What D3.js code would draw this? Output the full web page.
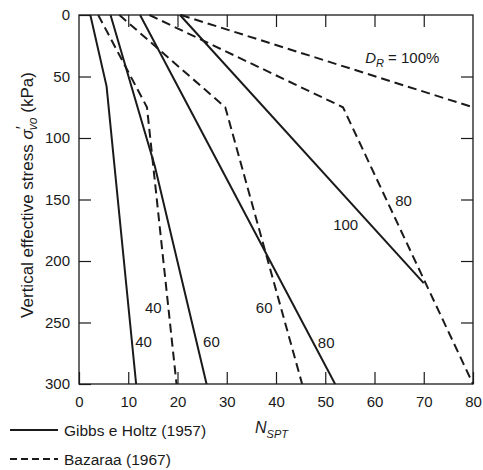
<!DOCTYPE html>
<html>
<head>
<meta charset="utf-8">
<script src="https://cdn.jsdelivr.net/npm/d3@7/dist/d3.min.js"></script>
<style>
  body { margin: 0; background: #fff; }
  svg text { font-family: "Liberation Sans", Arial, Helvetica, sans-serif; fill: #1a1a1a; }
</style>
</head>
<body>
<svg id="chart" width="483" height="470"></svg>
<script>
// N_SPT vs vertical effective stress [N, kPa]
const gibbs40 = [[2.3, 0], [5.6, 58], [11.6, 300]];
const gibbs60 = [[6.4, 0], [15.4, 123], [25.9, 300]];
const gibbs80 = [[12.4, 0], [52, 300]];
const gibbs100 = [[20.5, 0], [70, 218]];

const bazaraa40 = [[3.9, 0], [13.8, 75], [19.8, 300]];
const bazaraa60 = [[8.2, 0], [29.7, 75], [45.3, 300]];
const bazaraa80 = [[14.3, 0], [53.6, 75], [80, 300]];
const bazaraa100 = [[20.7, 0], [80, 75]];

const xTicks = [0, 10, 20, 30, 40, 50, 60, 70, 80];
const yTicks = [0, 50, 100, 150, 200, 250, 300];

// curve labels: text, N, kPa
const curveLabels = [
  ["40", 11.4, 270],
  ["40", 13.4, 242],
  ["60", 25.2, 270],
  ["60", 35.9, 242],
  ["80", 48.5, 271],
  ["100", 51.6, 175],
  ["80", 64.2, 155]
];

let svg = d3.select("#chart")
let ink = "#1a1a1a"

let x = d3.scaleLinear().domain([0, 80]).range([79, 473])
let y = d3.scaleLinear().domain([0, 300]).range([15, 384])

let line = d3.line()
  .x(d => x(d[0]))
  .y(d => y(d[1]))

// frame
svg.append("rect")
  .attr("x", x(0)).attr("y", y(0))
  .attr("width", x(80) - x(0)).attr("height", y(300) - y(0))
  .attr("fill", "none").attr("stroke", ink).attr("stroke-width", 1.3)

// bottom axis, ticks pointing up
let xAxis = svg.append("g")
  .attr("transform", `translate(0,${y(300)})`)
  .call(d3.axisBottom(x).tickValues(xTicks).tickSizeInner(-12).tickSizeOuter(0).tickPadding(12))
xAxis.select(".domain").remove()

// left axis, ticks pointing right
let yAxis = svg.append("g")
  .attr("transform", `translate(${x(0)},0)`)
  .call(d3.axisLeft(y).tickValues(yTicks).tickSizeInner(-12).tickSizeOuter(0).tickPadding(9))
yAxis.select(".domain").remove()

// top and right: ticks only
let topAxis = svg.append("g")
  .attr("transform", `translate(0,${y(0)})`)
  .call(d3.axisTop(x).tickValues(xTicks.slice(1, -1)).tickSizeInner(-12).tickSizeOuter(0).tickFormat(""))
topAxis.select(".domain").remove()

let rightAxis = svg.append("g")
  .attr("transform", `translate(${x(80)},0)`)
  .call(d3.axisRight(y).tickValues(yTicks.slice(1, -1)).tickSizeInner(-12).tickSizeOuter(0).tickFormat(""))
rightAxis.select(".domain").remove()

svg.selectAll(".tick line").attr("stroke", ink).attr("stroke-width", 1.2)
svg.selectAll(".tick text").attr("font-size", 15).attr("fill", ink)

// curves
let solids = [gibbs40, gibbs60, gibbs80, gibbs100]
let dashes = [bazaraa40, bazaraa60, bazaraa80, bazaraa100]

svg.append("g").selectAll("path")
  .data(solids)
  .enter().append("path")
  .attr("d", line)
  .attr("fill", "none").attr("stroke", ink).attr("stroke-width", 2)

svg.append("g").selectAll("path")
  .data(dashes)
  .enter().append("path")
  .attr("d", line)
  .attr("fill", "none").attr("stroke", ink).attr("stroke-width", 2)
  .attr("stroke-dasharray", "9,5")

// curve labels
svg.append("g").selectAll("text")
  .data(curveLabels)
  .enter().append("text")
  .attr("x", d => x(d[1]))
  .attr("y", d => y(d[2]))
  .attr("font-size", 15)
  .text(d => d[0])

// D_R = 100%
let dr = svg.append("text")
  .attr("x", x(58.1)).attr("y", y(39))
  .attr("font-size", 15)
dr.append("tspan").attr("font-style", "italic").text("D")
dr.append("tspan").attr("font-style", "italic").attr("font-size", 11).attr("dy", 4).text("R")
dr.append("tspan").attr("dy", -4).text(" = 100%")

// x title
let xt = svg.append("text")
  .attr("x", 255).attr("y", 433)
  .attr("font-size", 16)
xt.append("tspan").attr("font-style", "italic").text("N")
xt.append("tspan").attr("font-style", "italic").attr("font-size", 11).attr("dy", 5).text("SPT")

// y title
let yt = svg.append("text")
  .attr("transform", "translate(33,195) rotate(-90)")
  .attr("text-anchor", "middle")
  .attr("font-size", 17)
yt.append("tspan").text("Vertical effective stress ")
yt.append("tspan").attr("font-style", "italic").text("σ")
yt.append("tspan").attr("dy", -5).text("′")
yt.append("tspan").attr("font-style", "italic").attr("font-size", 12).attr("dx", -4).attr("dy", 9).text("vo")
yt.append("tspan").attr("dy", -4).text(" (kPa)")

// legend
let legend = svg.append("g")
let legendItems = [["Gibbs e Holtz (1957)", null, 436], ["Bazaraa (1967)", "7,4", 465]]
legend.selectAll("line")
  .data(legendItems)
  .enter().append("line")
  .attr("x1", 10).attr("x2", 58)
  .attr("y1", d => d[2] - 6).attr("y2", d => d[2] - 6)
  .attr("stroke", ink).attr("stroke-width", 2)
  .attr("stroke-dasharray", d => d[1])
legend.selectAll("text")
  .data(legendItems)
  .enter().append("text")
  .attr("x", 64).attr("y", d => d[2])
  .attr("font-size", 15.5)
  .text(d => d[0])
</script>
</body>
</html>
